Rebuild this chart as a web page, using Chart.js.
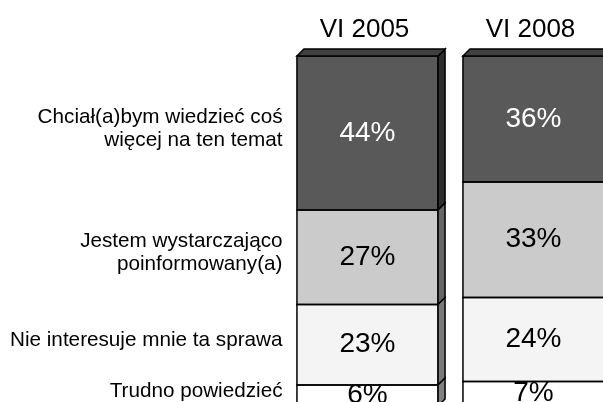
<!DOCTYPE html>
<html>
<head>
<meta charset="utf-8">
<script src="https://cdn.jsdelivr.net/npm/chart.js@4"></script>
<style>
  html, body { margin: 0; padding: 0; background: #fff; overflow: hidden; }
  #wrap { width: 603px; height: 402px; overflow: hidden; }
</style>
</head>
<body>
<div id="wrap"><canvas id="chart" width="620" height="410"></canvas></div>
<script>
// Survey periods (columns)
const periods = ['VI 2005', 'VI 2008'];

// Answer labels, one entry per stacked segment (lines split for the left legend)
const answers = [
    ['Chciał(a)bym wiedzieć coś', 'więcej na ten temat'],
    ['Jestem wystarczająco', 'poinformowany(a)'],
    ['Nie interesuje mnie ta sprawa'],
    ['Trudno powiedzieć']
];

// Values in percent
const wantMore = [44, 36];
const informed = [27, 33];
const notInterested = [23, 24];
const hardToSay = [6, 7];

const faceColors = ['#595959', '#cbcbcb', '#f4f4f4', '#ffffff'];
const sideColors = ['#2e2e2e', '#666666', '#7a7a7a', '#808080'];
const textColors = ['#ffffff', '#000000', '#000000', '#000000'];
const DEPTH = 7;

const seriesValues = [wantMore, informed, notInterested, hardToSay];

// 3D sides, outlines, value labels, headings and left labels
const decorations = {
    id: 'decorations',
    afterDatasetsDraw(chart) {
        const ctx = chart.ctx;
        ctx.save();
        ctx.lineWidth = 1.5;
        ctx.strokeStyle = '#000';
        ctx.lineJoin = 'miter';

        chart.data.datasets.forEach((ds, di) => {
            const meta = chart.getDatasetMeta(di);
            meta.data.forEach((bar, idx) => {
                const left = bar.x - bar.width / 2;
                const right = bar.x + bar.width / 2;
                const top = Math.min(bar.y, bar.base);
                const bottom = Math.max(bar.y, bar.base);

                // front outline
                ctx.strokeRect(left, top, right - left, bottom - top);

                // right side
                ctx.beginPath();
                ctx.moveTo(right, top);
                ctx.lineTo(right + DEPTH, top - DEPTH);
                ctx.lineTo(right + DEPTH, bottom - DEPTH);
                ctx.lineTo(right, bottom);
                ctx.closePath();
                ctx.fillStyle = sideColors[di];
                ctx.fill();
                ctx.stroke();

                // top face on first segment
                if (di === 0) {
                    ctx.beginPath();
                    ctx.moveTo(left, top);
                    ctx.lineTo(left + DEPTH, top - DEPTH);
                    ctx.lineTo(right + DEPTH, top - DEPTH);
                    ctx.lineTo(right, top);
                    ctx.closePath();
                    ctx.fillStyle = '#404040';
                    ctx.fill();
                    ctx.stroke();
                }

                // value label
                ctx.fillStyle = textColors[di];
                ctx.font = '28px "Liberation Sans", Arial, sans-serif';
                ctx.textAlign = 'center';
                ctx.textBaseline = 'middle';
                ctx.fillText(ds.data[idx] + '%', bar.x, (top + bottom) / 2);
            });
        });

        // column headings
        const firstMeta = chart.getDatasetMeta(0);
        ctx.fillStyle = '#000';
        ctx.font = '26px "Liberation Sans", Arial, sans-serif';
        ctx.textAlign = 'center';
        ctx.textBaseline = 'alphabetic';
        firstMeta.data.forEach((bar, i) => {
            ctx.fillText(periods[i], bar.x - 3, 37);
        });

        // left answer labels, next to the first column's segments
        ctx.font = '20.7px "Liberation Sans", Arial, sans-serif';
        ctx.textAlign = 'right';
        ctx.textBaseline = 'middle';
        const labelX = chart.chartArea.left - 2;
        answers.forEach((lines, di) => {
            const bar = chart.getDatasetMeta(di).data[0];
            const mid = (bar.y + bar.base) / 2 - 4;
            const start = mid - (lines.length - 1) * 23 / 2;
            lines.forEach((line, li) => {
                ctx.fillText(line, labelX, start + li * 23);
            });
        });
        ctx.restore();
    }
};

new Chart(document.getElementById('chart'), {
    type: 'bar',
    data: {
        labels: periods,
        datasets: seriesValues.map((vals, i) => ({
            label: answers[i].join(' '),
            data: vals,
            backgroundColor: faceColors[i],
            borderWidth: 0
        }))
    },
    options: {
        responsive: false,
        animation: false,
        layout: { padding: { left: 284.5, right: 3.5, top: 56, bottom: 4 } },
        datasets: { bar: { categoryPercentage: 1, barPercentage: 0.85 } },
        scales: {
            x: { stacked: true, display: false },
            y: { stacked: true, display: false, reverse: true, min: 0, max: 100 }
        },
        plugins: {
            legend: { display: false },
            tooltip: { enabled: false }
        }
    },
    plugins: [decorations]
});
</script>
</body>
</html>
